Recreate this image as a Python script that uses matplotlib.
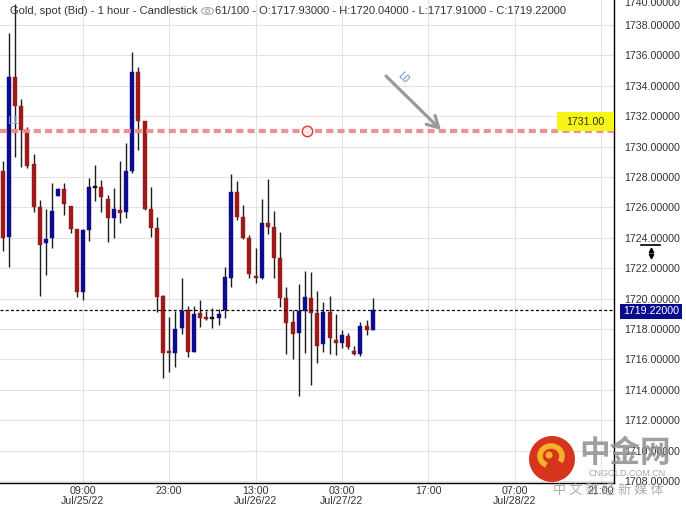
import matplotlib
matplotlib.use("Agg")
import matplotlib.pyplot as plt
from matplotlib import patches
from matplotlib.lines import Line2D

# ---------------- data ----------------
opens = [1728.40, 1724.07, 1734.56, 1732.67, 1731.09, 1728.86, 1726.00, 1723.64, 1724.00, 1726.77,
         1727.20, 1726.09, 1724.58, 1720.45, 1724.51, 1727.30, 1727.32, 1726.53, 1725.32, 1725.83,
         1725.68, 1728.41, 1734.89, 1731.68, 1725.89, 1724.62, 1720.17, 1716.50, 1716.44, 1718.05,
         1719.25, 1716.51, 1719.03, 1718.81, 1718.68, 1718.70, 1719.25, 1721.34, 1727.03, 1725.35,
         1724.01, 1721.49, 1721.34, 1725.00, 1724.73, 1722.69, 1720.06, 1718.44, 1717.76, 1719.18,
         1720.06, 1719.07, 1716.99, 1719.14, 1717.28, 1717.10, 1717.54, 1716.55, 1716.36, 1718.22,
         1717.93]
highs = [1729.05, 1737.45, 1739.40, 1733.13, 1731.30, 1729.50, 1726.50, 1725.87, 1727.62, 1727.25,
         1727.60, 1726.10, 1724.60, 1724.55, 1727.91, 1728.79, 1727.80, 1726.82, 1727.30, 1729.05,
         1730.22, 1736.24, 1735.26, 1731.70, 1727.36, 1725.39, 1720.24, 1718.81, 1719.18, 1721.34,
         1719.53, 1719.51, 1719.90, 1719.18, 1719.40, 1719.29, 1722.06, 1728.20, 1727.76, 1726.16,
         1724.18, 1723.31, 1726.55, 1727.87, 1725.78, 1724.40, 1720.78, 1719.25, 1720.95, 1721.82,
         1721.73, 1720.50, 1719.80, 1720.20, 1718.97, 1717.93, 1717.72, 1716.88, 1718.48, 1718.59,
         1720.04]
lows = [1723.10, 1722.10, 1729.34, 1728.68, 1728.60, 1725.70, 1720.20, 1721.55, 1723.31, 1726.75,
        1725.50, 1724.30, 1720.10, 1719.90, 1723.81, 1726.42, 1725.72, 1723.74, 1724.01, 1725.00,
        1725.28, 1728.24, 1729.78, 1725.80, 1724.07, 1719.14, 1714.76, 1715.19, 1715.48, 1717.65,
        1716.18, 1716.50, 1718.15, 1718.60, 1718.05, 1718.26, 1718.70, 1720.78, 1725.17, 1723.95,
        1721.34, 1721.05, 1721.30, 1724.25, 1721.34, 1719.47, 1716.34, 1716.00, 1713.59, 1716.44,
        1714.32, 1715.78, 1716.51, 1716.34, 1716.29, 1716.73, 1716.66, 1716.29, 1716.24, 1717.61,
        1717.91]
closes = [1724.00, 1734.56, 1732.67, 1731.09, 1728.74, 1726.00, 1723.50, 1723.92, 1725.76, 1727.21,
          1726.20, 1724.58, 1720.45, 1724.51, 1727.32, 1727.30, 1726.66, 1725.32, 1725.89, 1725.61,
          1728.39, 1734.89, 1731.70, 1725.89, 1724.66, 1720.13, 1716.44, 1716.45, 1718.00, 1719.18,
          1716.51, 1718.99, 1718.70, 1718.64, 1718.68, 1718.97, 1721.40, 1726.99, 1725.35, 1724.01,
          1721.60, 1721.38, 1725.00, 1724.73, 1722.69, 1720.06, 1718.41, 1717.67, 1719.18, 1720.09,
          1719.07, 1716.90, 1719.14, 1717.39, 1717.10, 1717.61, 1716.84, 1716.36, 1718.20, 1717.93,
          1719.22]

x_tick_pos = [13, 27, 41, 55, 69, 83, 97]
x_tick_labels = ["09:00\nJul/25/22", "23:00", "13:00\nJul/26/22", "03:00\nJul/27/22",
                 "17:00", "07:00\nJul/28/22", "21:00"]
y_ticks = [1708, 1710, 1712, 1714, 1716, 1718, 1720, 1722, 1724, 1726, 1728, 1730,
           1732, 1734, 1736, 1738]
level_line = 1731.00
last_price = 1719.22
title_left = "Gold, spot (Bid) - 1 hour - Candlestick"
title_right = "61/100 - O:1717.93000 - H:1720.04000 - L:1717.91000 - C:1719.22000"

# ---------------- figure ----------------
W, H = 686, 507
fig = plt.figure(figsize=(W / 100, H / 100), dpi=100, facecolor="white")
plt.rcParams["font.family"] = ["Liberation Sans", "DejaVu Sans"]

def fx(x):
    return x / W

def fy(y):
    return 1 - y / H

ax = fig.add_axes([0, 1 - 483 / H, 614 / W, 483 / H])
ax.set_facecolor("white")
ax.set_xlim(-0.44, 99.13)
ax.set_ylim(1707.87, 1739.64)

BLUE = "#0c0c8c"
RED = "#9c1a1a"

for i, (o, h, l, c) in enumerate(zip(opens, highs, lows, closes)):
    if c > o:
        col = BLUE
    elif c < o:
        col = RED
    else:
        col = "#111111"
    ax.vlines(i, l, h, color="#1e1e1e", lw=1.0, zorder=3)
    bottom = min(o, c)
    height = max(abs(c - o), 0.09)
    ax.bar(i, height, bottom=bottom, width=0.66, color=col, edgecolor=col,
           linewidth=0.3, zorder=4)

# grid & axes
ax.set_xticks(x_tick_pos)
ax.set_xticklabels(x_tick_labels, fontsize=7.7, color="#333333", linespacing=1.05)
ax.set_yticks(y_ticks)
ax.set_yticklabels([f"{v:.5f}" for v in y_ticks], fontsize=7.7, color="#333333")
ax.yaxis.tick_right()
ax.tick_params(axis="y", length=0, pad=7.5)
ax.tick_params(axis="x", length=0, pad=2.0)
ax.grid(True, color="#e3e3e3", lw=0.8, zorder=0)
ax.set_axisbelow(True)
for s in ["left", "top"]:
    ax.spines[s].set_visible(False)
ax.spines["right"].set_color("black")
ax.spines["bottom"].set_color("black")
ax.spines["right"].set_linewidth(1.0)
ax.spines["bottom"].set_linewidth(1.0)

# last price dashed line
ax.axhline(last_price, color="black", lw=0.9, linestyle=(0, (2.4, 1.8)), zorder=5)

# level line 1731
ax.axhline(level_line, color="#ec8c8c", lw=3.0, linestyle=(0, (1.7, 1.0)), zorder=6, alpha=0.95)
ax.plot([49.3], [level_line], marker="o", ms=7.5, mfc="#fde6e6", mec="#d83a3a", mew=1.0, zorder=7)

# arrow + L0 label
ax.annotate("", xy=(71.07, 1731.09), xytext=(62.15, 1734.64),
            arrowprops=dict(arrowstyle="->,head_length=0.8,head_width=0.45",
                            color="#9a9a9a", lw=2.3, shrinkA=0, shrinkB=0), zorder=8)
ax.text(64.9, 1734.55, "L0", rotation=-45, color="#5b7fc7", fontsize=7,
        ha="center", va="center", zorder=8)
ax.text(1.6, 1731.65, "L1", color="#7b9bd6", fontsize=7.5, ha="center", va="center", zorder=8)

# yellow level box
fig.patches.append(patches.Rectangle((fx(557), fy(131)), 57 / W, 19 / H,
                                     transform=fig.transFigure, facecolor="#f7f514",
                                     edgecolor="none", zorder=5))
fig.text(fx(585), fy(122), "1731.00", fontsize=7.7, color="#333333",
         ha="center", va="center", zorder=6)

# last price box on axis
fig.patches.append(patches.Rectangle((fx(620), fy(318.5)), 62 / W, 15 / H,
                                     transform=fig.transFigure, facecolor="#0a0a8e",
                                     edgecolor="none", zorder=5))
fig.text(fx(651), fy(311), "1719.22000", fontsize=7.7, color="white",
         ha="center", va="center", zorder=6)

# top clipped 1740 label
fig.text(fx(624), fy(3), "1740.00000", fontsize=7.7, color="#333333",
         ha="left", va="center")

# scale icon
fig.add_artist(Line2D([fx(641), fx(660)], [fy(245), fy(245)], color="black", lw=1.2,
                      transform=fig.transFigure))
fig.add_artist(Line2D([fx(650.5)], [fy(249.5)], marker="^", ms=3.2, color="black", lw=0,
                      transform=fig.transFigure))
fig.add_artist(Line2D([fx(650.5)], [fy(255.5)], marker="v", ms=3.2, color="black", lw=0,
                      transform=fig.transFigure))

# title
fig.text(fx(10), fy(11), title_left, fontsize=8, color="#333333", ha="left", va="center")
fig.patches.append(patches.Ellipse((fx(207.5), fy(11)), 12 / W, 7 / H,
                                   transform=fig.transFigure, facecolor="white",
                                   edgecolor="#aaaaaa", lw=0.8))
fig.patches.append(patches.Ellipse((fx(207.5), fy(11)), 4 / W, 4 / H,
                                   transform=fig.transFigure, facecolor="white",
                                   edgecolor="#aaaaaa", lw=0.8))
fig.text(fx(215), fy(11), title_right, fontsize=8, color="#333333", ha="left", va="center")

# watermark
fig.patches.append(patches.Ellipse((fx(552), fy(459)), 46 / W, 46 / H,
                                   transform=fig.transFigure, facecolor="#d6341c",
                                   edgecolor="none", zorder=9))
fig.patches.append(patches.Arc((fx(551), fy(456)), 22 / W, 20 / H, theta1=-40, theta2=250,
                               transform=fig.transFigure, color="#f7b02a", lw=4, zorder=10))
fig.patches.append(patches.Ellipse((fx(549), fy(455)), 7 / W, 7 / H,
                                   transform=fig.transFigure, facecolor="#f7b02a",
                                   edgecolor="none", zorder=10))
fig.text(fx(625), fy(453), "中金网", fontsize=22, fontweight="bold", color="#8e8e8e",
         alpha=0.85, ha="center", va="center", family=["Noto Sans CJK SC", "DejaVu Sans"],
         zorder=10)
fig.text(fx(627), fy(474), "CNGOLD.COM.CN", fontsize=6.5, color="#9a9a9a", alpha=0.85,
         ha="center", va="center", zorder=10)
fig.text(fx(608), fy(490), "中 文 财 经 新 媒 体", fontsize=9.5, color="#9a9a9a", alpha=0.8,
         ha="center", va="center", family=["Noto Sans CJK SC", "DejaVu Sans"], zorder=10)

fig.savefig("out.png", dpi=100, facecolor="white")
